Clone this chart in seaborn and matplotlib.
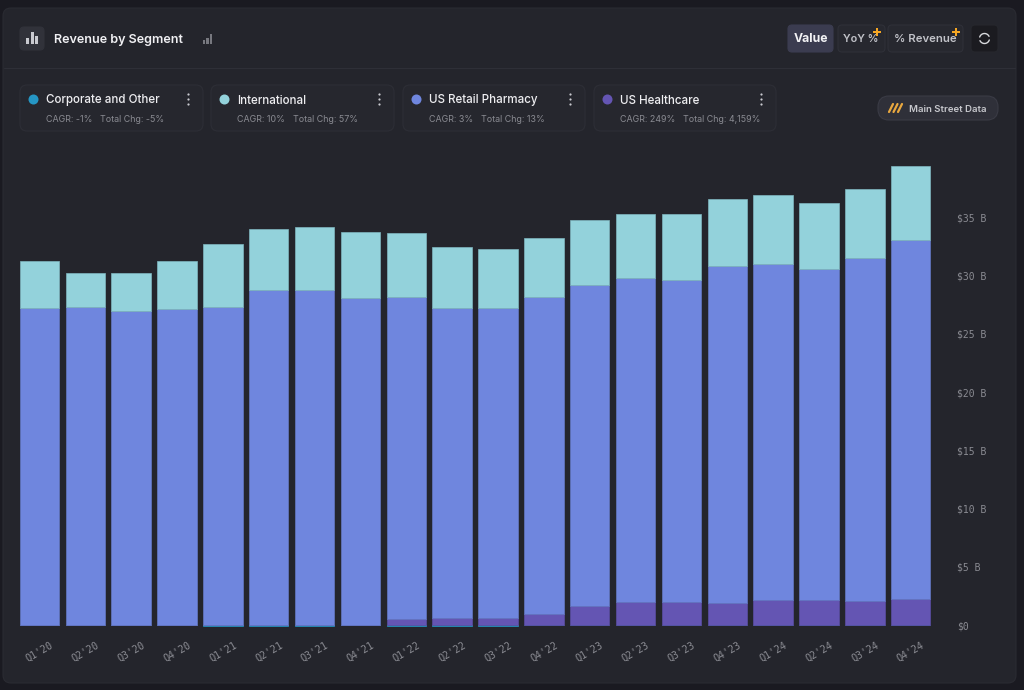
import numpy as np
import pandas as pd
import seaborn as sns
from matplotlib import pyplot as plt
from matplotlib.patches import FancyBboxPatch, Rectangle, Circle

# values, in $ B
quarters = ["Q1'20", "Q2'20", "Q3'20", "Q4'20", "Q1'21", "Q2'21", "Q3'21", "Q4'21", "Q1'22", "Q2'22",
            "Q3'22", "Q4'22", "Q1'23", "Q2'23", "Q3'23", "Q4'23", "Q1'24", "Q2'24", "Q3'24", "Q4'24"]
corporate = [0, 0, 0, 0, -0.08, -0.08, -0.08, 0, -0.05, -0.03, -0.03, -0.02, 0, 0, 0, 0, 0, 0, 0, 0]
us_healthcare = [0, 0, 0, 0, 0, 0, 0, 0, 0.56, 0.64, 0.64, 0.98, 1.67, 2.02, 2.02, 1.93, 2.19, 2.19, 2.10, 2.27]
us_retail = [27.25, 27.34, 27.00, 27.17, 27.34, 28.80, 28.80, 28.11, 27.64, 26.61, 26.61, 27.22, 27.56, 27.81,
             27.64, 28.93, 28.84, 28.41, 29.45, 30.82]
international = [4.04, 2.92, 3.26, 4.12, 5.41, 5.23, 5.40, 5.67, 5.49, 5.24, 5.07, 5.06, 5.58, 5.49, 5.66, 5.75,
                 5.92, 5.67, 5.92, 6.35]
y_ticks = [0, 5, 10, 15, 20, 25, 30, 35]
y_labels = ["$0", "$5 B", "$10 B", "$15 B", "$20 B", "$25 B", "$30 B", "$35 B"]

legend_names = ["Corporate and Other", "International", "US Retail Pharmacy", "US Healthcare"]
legend_stats = [("CAGR: -1%", "Total Chg: -5%"), ("CAGR: 10%", "Total Chg: 57%"),
                ("CAGR: 3%", "Total Chg: 13%"), ("CAGR: 249%", "Total Chg: 4,159%")]

C_CORP = "#2596c4"
C_INTL = "#93d2db"
C_RETAIL = "#6f86de"
C_HEALTH = "#6455b3"
BG = "#1a1a21"
PANEL = "#24252c"
EDGE = "#2f3038"

sns.set_style("dark")
plt.rcParams['font.family'] = ['Inter', 'DejaVu Sans']

W, H = 1024, 690
fig = plt.figure(figsize=(W / 100, H / 100), dpi=100, facecolor=BG)

# page furniture, in pixel coordinates
bg = fig.add_axes([0, 0, 1, 1])
bg.set_xlim(0, W)
bg.set_ylim(H, 0)
bg.axis("off")


def box(x0, y0, x1, y1, face, edge=EDGE, r=6, lw=0.8):
    bg.add_patch(FancyBboxPatch((x0 + r, y0 + r), x1 - x0 - 2 * r, y1 - y0 - 2 * r,
                                boxstyle=f"round,pad={r},rounding_size={r}", fc=face, ec=edge, lw=lw))


box(3, 8, 1016, 683, PANEL, edge="#2a2b32", r=8)
bg.plot([4, 1015], [68, 68], color="#2e2f37", lw=0.8)

# header
box(20, 27, 44, 50, "#31323a", edge="#31323a", r=4)
for x, y0 in [(27.5, 38), (32, 32), (36.5, 36)]:
    bg.add_patch(Rectangle((x - 1.5, y0), 3, 44 - y0, fc="#c9cad0", ec="none"))
bg.text(54, 43, "Revenue by Segment", color="#f0f0f3", fontsize=9.1, fontweight="semibold", va="baseline")
for x, y0 in [(204, 40), (207.5, 38), (211, 34)]:
    bg.add_patch(Rectangle((x - 1.2, y0), 2.4, 44 - y0, fc="#77787f", ec="none"))

# buttons
box(788, 25, 833, 52, "#3b3c50", edge="#3b3c50", r=4)
bg.text(810.5, 42.5, "Value", color="#f2f2f5", fontsize=8.8, fontweight="bold", ha="center", va="baseline")
box(838, 25, 885, 52, "#27282f", r=4)
bg.text(861, 42.5, "YoY %", color="#c2c3c9", fontsize=7.8, fontweight="semibold", ha="center", va="baseline")
box(888, 25, 963, 52, "#27282f", r=4)
bg.text(925.5, 42.5, "% Revenue", color="#c2c3c9", fontsize=8.2, fontweight="semibold", ha="center", va="baseline")
box(971, 25, 998, 52, "#1b1b20", edge="#26272d", r=4)
theta = np.linspace(0.3, 2.7, 20)
for off in (0, np.pi):
    bg.plot(984.5 + 5 * np.cos(theta + off), 38.5 + 5 * np.sin(theta + off), color="#d8d9dd", lw=1)
for cx, cy in [(877, 32), (955.5, 32)]:
    bg.plot([cx], [cy], marker="P", ms=6, color="#f5a623", mew=0)

# legend cards
card_x = [(20, 203), (211, 394), (403, 585), (594, 776)]
card_colors = [C_CORP, C_INTL, C_RETAIL, C_HEALTH]
for (x0, x1), name, stats, col in zip(card_x, legend_names, legend_stats, card_colors):
    box(x0, 85, x1, 131, "#26272e", edge="#2d2e36", r=7)
    bg.add_patch(Circle((x0 + 13.5, 99.5), 5, fc=col, ec="none"))
    bg.text(x0 + 26, 103.5, name, color="#eeeef1", fontsize=8.35, fontweight="medium", va="baseline")
    t = bg.text(x0 + 26, 122, stats[0], color="#8a8b92", fontsize=6.4, va="baseline")
    bbox = t.get_window_extent(fig.canvas.get_renderer())
    bg.text(x0 + 26 + bbox.width + 8, 122, stats[1], color="#8a8b92", fontsize=6.4, va="baseline")
    for dy in (-5, 0, 5):
        bg.add_patch(Circle((x1 - 14.5, 99.5 + dy), 1.1, fc="#c9cad0", ec="none"))

# data source pill
box(878, 96, 998, 120, "#2f3039", edge="#3a3b45", r=11)
for x in (889, 893.5, 898):
    bg.plot([x, x + 4], [112, 104], color="#e9a83f", lw=1.6)
bg.text(909, 112, "Main Street Data", color="#c6c7cc", fontsize=6.95, fontweight="semibold", va="baseline")

# chart axes: y = 0 at pixel 625.2, 11.65 px per $ B
ax_top, ax_bottom = 150, 640
ax_left, ax_right = 16, 940
ax = fig.add_axes([ax_left / W, 1 - ax_bottom / H, (ax_right - ax_left) / W, (ax_bottom - ax_top) / H])
ax.patch.set_alpha(0)
ax.grid(False)
for s in ax.spines.values():
    s.set_visible(False)

df = pd.DataFrame({"quarter": quarters, "corporate": corporate, "healthcare": us_healthcare,
                   "retail": us_retail, "international": international})
bar_w = 0.86

sns.barplot(data=df, x="quarter", y="corporate", color=C_CORP, saturation=1, width=bar_w, ax=ax,
            edgecolor=C_CORP, linewidth=0.5)
sns.barplot(data=df, x="quarter", y="healthcare", color=C_HEALTH, saturation=1, width=bar_w, ax=ax,
            edgecolor="#5a4da3", linewidth=0.5)
sns.barplot(data=df, x="quarter", y="retail", bottom=df["healthcare"], color=C_RETAIL, saturation=1, width=bar_w,
            ax=ax, edgecolor="#6478c4", linewidth=0.5)
sns.barplot(data=df, x="quarter", y="international", bottom=df["healthcare"] + df["retail"], color=C_INTL,
            saturation=1, width=bar_w, ax=ax, edgecolor="#7fb6c0", linewidth=0.5)

# x: first bar centre at pixel 39.5, 45.85 px pitch
ax.set_xlim((ax_left - 39.5) / 45.85, (ax_right - 39.5) / 45.85)
ax.set_ylim((625.2 - ax_bottom) / 11.65, (625.2 - ax_top) / 11.65)
ax.set_xlabel("")
ax.set_ylabel("")

ax.yaxis.tick_right()
ax.set_yticks(y_ticks)
ax.set_yticklabels(y_labels, family="DejaVu Sans Mono", fontsize=7, color="#8a8b92")
ax.tick_params(axis="y", length=0, pad=12)
ax.set_xticks(range(len(quarters)))
ax.set_xticklabels(quarters, family="DejaVu Sans Mono", fontsize=7.2, color="#8a8b92", rotation=30,
                   ha="center", va="top")
ax.tick_params(axis="x", length=0, pad=0)

fig.savefig("out.png", dpi=100, facecolor=BG)
